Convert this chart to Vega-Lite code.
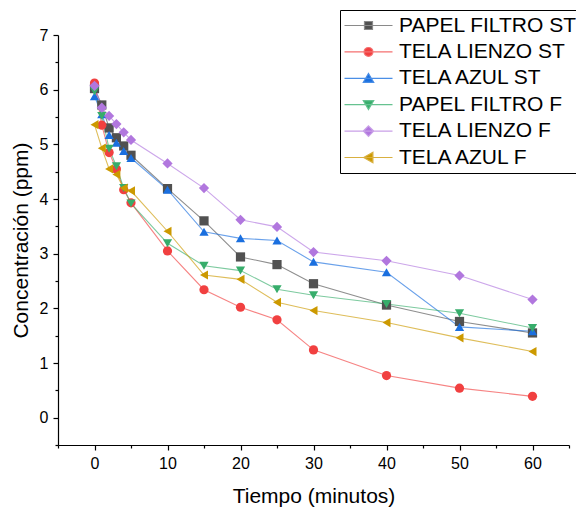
{
  "$schema": "https://vega.github.io/schema/vega-lite/v6.json",
  "width": 511,
  "height": 410,
  "autosize": "none",
  "padding": {"left": 58, "top": 35, "right": 7, "bottom": 63},
  "background": "white",
  "config": {
    "view": {"stroke": null},
    "font": "Liberation Sans",
    "axis": {"grid": false, "domainColor": "black", "tickColor": "black", "labelColor": "black", "titleColor": "black", "domainWidth": 1.2, "tickWidth": 1.2, "labelFont": "Liberation Sans", "titleFont": "Liberation Sans", "titleFontWeight": "normal"},
    "legend": {"orient": "none", "legendX": 282, "legendY": -25, "title": null, "labelFont": "Liberation Sans", "labelFontSize": 21, "labelColor": "black", "symbolSize": 64, "symbolStrokeWidth": 1.2, "labelOffset": 33, "padding": 5, "rowPadding": 4.4, "strokeColor": "black", "fillColor": "white", "symbolOpacity": 1, "labelLimit": 400},
    "point": {"filled": true, "opacity": 1, "size": 85}
  },
  "data": {"values": [
    {"s": "PAPEL FILTRO ST", "t": 0, "c": 6.02}, {"s": "PAPEL FILTRO ST", "t": 1, "c": 5.72}, {"s": "PAPEL FILTRO ST", "t": 2, "c": 5.3}, {"s": "PAPEL FILTRO ST", "t": 3, "c": 5.12}, {"s": "PAPEL FILTRO ST", "t": 4, "c": 4.97}, {"s": "PAPEL FILTRO ST", "t": 5, "c": 4.8}, {"s": "PAPEL FILTRO ST", "t": 10, "c": 4.19}, {"s": "PAPEL FILTRO ST", "t": 15, "c": 3.6}, {"s": "PAPEL FILTRO ST", "t": 20, "c": 2.94}, {"s": "PAPEL FILTRO ST", "t": 25, "c": 2.8}, {"s": "PAPEL FILTRO ST", "t": 30, "c": 2.45}, {"s": "PAPEL FILTRO ST", "t": 40, "c": 2.06}, {"s": "PAPEL FILTRO ST", "t": 50, "c": 1.76}, {"s": "PAPEL FILTRO ST", "t": 60, "c": 1.55},
    {"s": "TELA LIENZO ST", "t": 0, "c": 6.12}, {"s": "TELA LIENZO ST", "t": 1, "c": 5.35}, {"s": "TELA LIENZO ST", "t": 2, "c": 4.85}, {"s": "TELA LIENZO ST", "t": 3, "c": 4.55}, {"s": "TELA LIENZO ST", "t": 4, "c": 4.17}, {"s": "TELA LIENZO ST", "t": 5, "c": 3.93}, {"s": "TELA LIENZO ST", "t": 10, "c": 3.05}, {"s": "TELA LIENZO ST", "t": 15, "c": 2.34}, {"s": "TELA LIENZO ST", "t": 20, "c": 2.02}, {"s": "TELA LIENZO ST", "t": 25, "c": 1.79}, {"s": "TELA LIENZO ST", "t": 30, "c": 1.24}, {"s": "TELA LIENZO ST", "t": 40, "c": 0.77}, {"s": "TELA LIENZO ST", "t": 50, "c": 0.54}, {"s": "TELA LIENZO ST", "t": 60, "c": 0.39},
    {"s": "TELA AZUL ST", "t": 0, "c": 5.88}, {"s": "TELA AZUL ST", "t": 1, "c": 5.55}, {"s": "TELA AZUL ST", "t": 2, "c": 5.17}, {"s": "TELA AZUL ST", "t": 3, "c": 5.03}, {"s": "TELA AZUL ST", "t": 4, "c": 4.88}, {"s": "TELA AZUL ST", "t": 5, "c": 4.75}, {"s": "TELA AZUL ST", "t": 10, "c": 4.17}, {"s": "TELA AZUL ST", "t": 15, "c": 3.4}, {"s": "TELA AZUL ST", "t": 20, "c": 3.28}, {"s": "TELA AZUL ST", "t": 25, "c": 3.24}, {"s": "TELA AZUL ST", "t": 30, "c": 2.85}, {"s": "TELA AZUL ST", "t": 40, "c": 2.66}, {"s": "TELA AZUL ST", "t": 50, "c": 1.66}, {"s": "TELA AZUL ST", "t": 60, "c": 1.58},
    {"s": "PAPEL FILTRO F", "t": 0, "c": 5.97}, {"s": "PAPEL FILTRO F", "t": 1, "c": 5.52}, {"s": "PAPEL FILTRO F", "t": 2, "c": 4.92}, {"s": "PAPEL FILTRO F", "t": 3, "c": 4.6}, {"s": "PAPEL FILTRO F", "t": 4, "c": 4.2}, {"s": "PAPEL FILTRO F", "t": 5, "c": 3.92}, {"s": "PAPEL FILTRO F", "t": 10, "c": 3.19}, {"s": "PAPEL FILTRO F", "t": 15, "c": 2.78}, {"s": "PAPEL FILTRO F", "t": 20, "c": 2.69}, {"s": "PAPEL FILTRO F", "t": 25, "c": 2.35}, {"s": "PAPEL FILTRO F", "t": 30, "c": 2.24}, {"s": "PAPEL FILTRO F", "t": 40, "c": 2.08}, {"s": "PAPEL FILTRO F", "t": 50, "c": 1.91}, {"s": "PAPEL FILTRO F", "t": 60, "c": 1.64},
    {"s": "TELA LIENZO F", "t": 0, "c": 6.07}, {"s": "TELA LIENZO F", "t": 1, "c": 5.67}, {"s": "TELA LIENZO F", "t": 2, "c": 5.52}, {"s": "TELA LIENZO F", "t": 3, "c": 5.37}, {"s": "TELA LIENZO F", "t": 4, "c": 5.22}, {"s": "TELA LIENZO F", "t": 5, "c": 5.08}, {"s": "TELA LIENZO F", "t": 10, "c": 4.65}, {"s": "TELA LIENZO F", "t": 15, "c": 4.2}, {"s": "TELA LIENZO F", "t": 20, "c": 3.62}, {"s": "TELA LIENZO F", "t": 25, "c": 3.49}, {"s": "TELA LIENZO F", "t": 30, "c": 3.03}, {"s": "TELA LIENZO F", "t": 40, "c": 2.87}, {"s": "TELA LIENZO F", "t": 50, "c": 2.6}, {"s": "TELA LIENZO F", "t": 60, "c": 2.16},
    {"s": "TELA AZUL F", "t": 0, "c": 5.36}, {"s": "TELA AZUL F", "t": 1, "c": 4.93}, {"s": "TELA AZUL F", "t": 2, "c": 4.55}, {"s": "TELA AZUL F", "t": 3, "c": 4.45}, {"s": "TELA AZUL F", "t": 4, "c": 4.2}, {"s": "TELA AZUL F", "t": 5, "c": 4.15}, {"s": "TELA AZUL F", "t": 10, "c": 3.41}, {"s": "TELA AZUL F", "t": 15, "c": 2.61}, {"s": "TELA AZUL F", "t": 20, "c": 2.53}, {"s": "TELA AZUL F", "t": 25, "c": 2.11}, {"s": "TELA AZUL F", "t": 30, "c": 1.96}, {"s": "TELA AZUL F", "t": 40, "c": 1.74}, {"s": "TELA AZUL F", "t": 50, "c": 1.46}, {"s": "TELA AZUL F", "t": 60, "c": 1.21}
  ]},
  "layer": [
    {
      "mark": {"type": "line", "strokeWidth": 1.1, "opacity": 0.65},
      "encoding": {
        "x": {"field": "t", "type": "quantitative", "scale": {"domain": [-5, 65], "nice": false, "zero": false},
              "axis": {"values": [0, 10, 20, 30, 40, 50, 60], "title": "Tiempo (minutos)", "titleFontSize": 21, "labelFontSize": 16, "tickSize": 5, "labelPadding": 5, "titlePadding": 14, "orient": "bottom"}},
        "y": {"field": "c", "type": "quantitative", "scale": {"domain": [-0.5, 7], "nice": false, "zero": false},
              "axis": {"values": [0, 1, 2, 3, 4, 5, 6, 7], "title": "Concentración (ppm)", "titleFontSize": 21, "labelFontSize": 16, "tickSize": 5, "labelPadding": 5, "titlePadding": 8, "orient": "left"}},
        "color": {"field": "s", "type": "nominal", "legend": null,
                  "scale": {"domain": ["PAPEL FILTRO ST", "TELA LIENZO ST", "TELA AZUL ST", "PAPEL FILTRO F", "TELA LIENZO F", "TELA AZUL F"], "range": ["#515151", "#F14040", "#1A6FDF", "#37AD6B", "#B177DE", "#CC9900"]}},
        "order": {"field": "t", "type": "quantitative"}
      }
    },
    {
      "transform": [{"filter": "datum.s === 'PAPEL FILTRO ST'"}],
      "mark": {"type": "point", "shape": "square"},
      "encoding": {"x": {"field": "t", "type": "quantitative", "axis": null}, "y": {"field": "c", "type": "quantitative", "axis": null}, "color": {"field": "s", "type": "nominal", "legend": null}}
    },
    {
      "transform": [{"filter": "datum.s === 'TELA LIENZO ST'"}],
      "mark": {"type": "point", "shape": "circle"},
      "encoding": {"x": {"field": "t", "type": "quantitative", "axis": null}, "y": {"field": "c", "type": "quantitative", "axis": null}, "color": {"field": "s", "type": "nominal", "legend": null}}
    },
    {
      "transform": [{"filter": "datum.s === 'TELA AZUL ST'"}],
      "mark": {"type": "point", "shape": "triangle-up"},
      "encoding": {"x": {"field": "t", "type": "quantitative", "axis": null}, "y": {"field": "c", "type": "quantitative", "axis": null}, "color": {"field": "s", "type": "nominal", "legend": null}}
    },
    {
      "transform": [{"filter": "datum.s === 'PAPEL FILTRO F'"}],
      "mark": {"type": "point", "shape": "triangle-down"},
      "encoding": {"x": {"field": "t", "type": "quantitative", "axis": null}, "y": {"field": "c", "type": "quantitative", "axis": null}, "color": {"field": "s", "type": "nominal", "legend": null}}
    },
    {
      "transform": [{"filter": "datum.s === 'TELA LIENZO F'"}],
      "mark": {"type": "point", "shape": "diamond", "size": 105},
      "encoding": {"x": {"field": "t", "type": "quantitative", "axis": null}, "y": {"field": "c", "type": "quantitative", "axis": null}, "color": {"field": "s", "type": "nominal", "legend": null}}
    },
    {
      "transform": [{"filter": "datum.s === 'TELA AZUL F'"}],
      "mark": {"type": "point", "shape": "triangle-left"},
      "encoding": {"x": {"field": "t", "type": "quantitative", "axis": null}, "y": {"field": "c", "type": "quantitative", "axis": null}, "color": {"field": "s", "type": "nominal", "legend": null}}
    },
    {
      "mark": {"type": "point", "filled": true, "opacity": 0, "size": 10},
      "encoding": {
        "x": {"field": "t", "type": "quantitative", "axis": {"values": [-5, 5, 15, 25, 35, 45, 55, 65], "labels": false, "title": null, "domain": false, "tickSize": 3, "orient": "bottom"}},
        "y": {"field": "c", "type": "quantitative", "axis": {"values": [-0.5, 0.5, 1.5, 2.5, 3.5, 4.5, 5.5, 6.5], "labels": false, "title": null, "domain": false, "tickSize": 3, "orient": "left"}},
        "color": {"field": "s", "type": "nominal"},
        "stroke": {"field": "s", "type": "nominal",
                 "scale": {"domain": ["PAPEL FILTRO ST", "TELA LIENZO ST", "TELA AZUL ST", "PAPEL FILTRO F", "TELA LIENZO F", "TELA AZUL F"], "range": ["#8a8a8a", "#F57070", "#4a8ee6", "#66c290", "#c9a0e8", "#d9b040"]}},
        "shape": {"field": "s", "type": "nominal",
                  "scale": {"domain": ["PAPEL FILTRO ST", "TELA LIENZO ST", "TELA AZUL ST", "PAPEL FILTRO F", "TELA LIENZO F", "TELA AZUL F"],
                            "range": ["M-2.75,0H9.25M2.25,-1H4.25V1H2.25Z", "M-2.75,0H9.25M2.15,0A1.1,1.1,0,1,0,4.35,0A1.1,1.1,0,1,0,2.15,0Z", "M-2.75,0H9.25M3.25,-1.2L4.55,1H1.95Z", "M-2.75,0H9.25M3.25,1.2L4.55,-1H1.95Z", "M-2.75,0H9.25M3.25,-1.3L4.55,0L3.25,1.3L1.95,0Z", "M-2.75,0H9.25M2.05,0L4.35,-1.3V1.3Z"]}}
      }
    }
  ],
  "resolve": {"axis": {"x": "independent", "y": "independent"}, "legend": {"color": "independent", "stroke": "independent", "shape": "independent"}}
}
